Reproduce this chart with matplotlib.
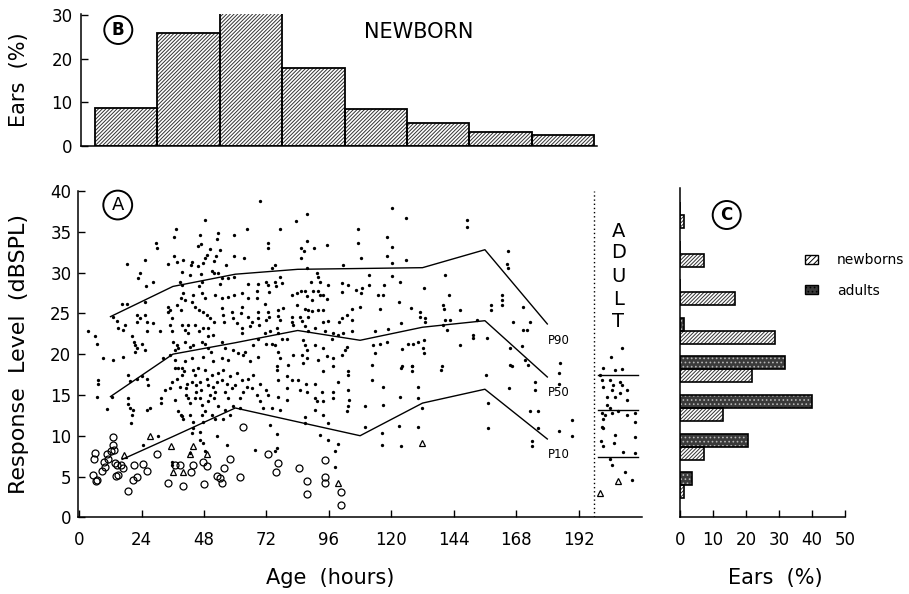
import numpy as np
import matplotlib
matplotlib.use('Agg')
import matplotlib.pyplot as plt
from matplotlib.patches import Patch

plt.rcParams['font.family'] = ['DejaVu Sans']
plt.rcParams['hatch.linewidth'] = 0.7
plt.rcParams['hatch.color'] = 'black'

# ---------------- Panel B: age distribution of newborn ears ----------------
age_bin_edges = [6, 30, 54, 78, 102, 126, 150, 174, 198]
newborn_age_pct = [8.8, 25.8, 30.5, 17.9, 8.4, 5.3, 3.2, 2.5]

# ---------------- Panel A: percentile curves ----------------
pct_age = [12, 36, 60, 84, 108, 132, 156, 180]
p90 = [24.6, 28.3, 29.8, 30.4, 30.5, 30.6, 32.8, 23.7]
p50 = [14.8, 20.0, 21.4, 22.9, 21.7, 23.3, 24.1, 17.2]
p10_age = [16.5, 36, 60, 84, 108, 132, 156, 180]
p10 = [7.1, 9.9, 13.4, 11.7, 10.0, 14.0, 15.7, 9.6]

adult_line_age = [199.4, 215.0]
adult_percentiles = [17.45, 13.1, 7.4]

# newborn responses (age h, level dB)
newborn_dots = np.array([
    (69.5,38.8),(48.4,36.5),(64.4,35.4),(37.1,35.3),(36.6,34.4),(46.4,34.6),(53.5,34.9),(52.9,34.1),(59.5,34.6),
    (29.5,33.6),(29.8,33.0),(45.8,33.2),(46.8,33.5),(50.3,32.9),(49,32.2),(54.1,32.8),(52.5,32.0),(52,31.4),
    (59.6,32.0),(63.4,31.8),(36.6,32.0),(37.5,31.3),(18.5,31.1),(25.3,31.5),(34,31.0),(40,31.5),(43.5,31.3),
    (42.8,30.9),(45.8,30.8),(47.7,31.2),(48.4,31.8),(56.3,30.9),(39.4,30.1),(42.6,29.7),(46.7,29.8),(50.9,30.2),
    (52,29.9),(53.2,29.9),(54.8,29.3),(57.3,29.3),(59.6,29.4),(23.4,29.9),(22.7,29.3),(28.5,28.9),(25.5,28.3),
    (38.7,28.9),(39.4,28.5),(47.1,28.9),(46.2,28.4),(54.1,28.6),(65,28.6),(68.9,28.6),(16.3,26.2),(18.2,26.2),
    (25.3,26.4),(40,27.5),(39.1,26.9),(40.7,26.6),(43.9,27.3),(43.5,26.4),(47.1,27.5),(48.4,26.9),(52.2,27.3),
    (54.8,26.9),(57.3,27.0),(59.6,27.3),(62.5,27.5),(65,26.9),(68.2,27.7),(68.2,26.9),(34,25.8),(34.9,25.4),
    (37.5,26),(39.1,25.4),(44.5,25.8),(46,25.4),(47.7,25.2),(49,24.8),(50.3,24.4),(52,24),(54.8,25.6),(55.4,24.8),
    (55.8,24),(58.6,25.2),(59.2,24.4),(60.5,23.8),(62.5,25.8),(62.2,25),(65,24.6),(66.3,24),(65.7,23.4),(68.9,25.2),
    (68.6,24.4),(69.2,23.6),(13.1,24.6),(14.4,24.1),(17.6,23.6),(17,23),(15,23.2),(22.1,24.8),(22.1,24),(23.4,24.4),
    (25.3,24.8),(25.9,23.9),(25.9,22.8),(28.5,23.8),(31,22.8),(34.2,25.2),(35.5,24.4),(34.9,23.6),(35.5,22.8),
    (39.4,23.6),(40.7,23),(42,23.6),(42,22.6),(44.5,23.6),(46,22.8),(47.7,23.2),(49.6,23.2),(51.6,22.4),(49.6,22.2),
    (62.5,23.2),(62.5,22.6),(3.2,22.8),(6,22.2),(6.7,21.2),(20.1,22.2),(21.2,21.5),(21.4,21.1),(22.1,20.7),
    (21.4,20.3),(24,21.3),(25.3,20.5),(36.2,21.5),(37.5,21.1),(38.1,20.7),(36.8,20.5),(40.7,21.5),(42.6,20.9),
    (43.9,21.1),(47.1,21.5),(48.4,21.3),(49.6,20.7),(50.7,20.3),(54.8,21.5),(56.1,20.7),(59.2,20.5),(61.2,20.1),
    (63.7,20.3),(67,21.1),(68.9,21.9),(9.2,19.5),(13.1,19.3),(17,19.6),(32.3,19.5),(34.9,19.9),(36.8,19.3),
    (40.7,19.1),(43.2,19.5),(47.7,19.6),(51.6,19.1),(54.8,19.5),(57.3,19.3),(63.1,19.9),(65.7,19.1),(68.6,19.7),
    # 72-145 h
    (120.1,37.9),(125.5,36.7),(87.4,37.2),(83.3,36.3),(77.2,35.4),(107.3,35.3),(118.2,34.4),(87.4,33.9),(95.1,33.4),
    (72.4,33.6),(72.4,33.0),(85.3,33.0),(86.5,32.7),(90.4,33.0),(107.3,33.6),(120.1,33.1),(85.3,31.8),(108.3,31.8),
    (118.2,32.0),(120.1,31.2),(125.5,31.5),(75.3,30.9),(74,30.5),(87.4,30.6),(101.5,30.9),(91.3,30.0),(91.9,29.5),
    (111.4,29.7),(120.4,29.6),(140.7,29.7),(72,28.9),(72.4,28.5),(75.3,28.8),(75.5,28.4),(77.2,29.5),(78.1,28.7),
    (89.1,28.8),(92.6,28.9),(95.5,28.5),(101.2,28.7),(103.2,28.5),(111.4,28.5),(117.3,28.5),(123.4,28.8),(132.7,28.1),
    (73,27.6),(81.7,27.3),(83.6,27.5),(85.3,27.8),(86.8,27.7),(87.4,27.1),(90,27.7),(91.7,27.8),(92.6,27.3),
    (93.9,27.3),(100.9,27.6),(106.3,27.9),(108.6,28.1),(108.3,27.5),(115,27.2),(116.9,27.3),(142.2,27.3),(71.4,26.2),
    (78.5,25.7),(83.6,26.0),(89.4,26.6),(95.1,26.8),(104.8,25.5),(108,25.8),(115.7,25.5),(123,26.4),(127.6,25.7),
    (140,26.0),(140.4,25.5),(72.7,25.2),(73,24.6),(72,24.2),(76.3,25.4),(76.5,24.7),(77.2,24.2),(81.7,24.6),
    (81.9,24),(82.3,23.6),(84.9,24.6),(85.5,24.1),(86.8,25.5),(88.1,25.4),(89.4,25.3),(91.7,25.4),(93.9,25.4),
    (88.1,24.6),(93.9,24),(95.8,24.1),(99.9,24),(101.2,24.4),(102.8,24.8),(105,24.2),(123.7,23.8),(131,25.2),
    (131,24.6),(133,24),(133,24.4),(140.7,24.2),(142.6,24.2),(71.4,22.6),(73.3,22.8),(75.9,23.2),(76.5,22.6),
    (86.8,23.4),(88.1,22.8),(90.6,23.2),(94.5,22.8),(97.7,22.6),(99.6,22.4),(101.5,22.6),(104.8,22.8),(113.7,22.8),
    (118.9,23.1),(140,23.6),(141.3,22.9),(72,21.3),(74,21.3),(75.3,21.1),(77.8,21.9),(79.8,21.9),(86.2,21.7),
    (86.8,21.1),(87.4,20.5),(90.6,21.1),(93.9,20.7),(97.1,21.9),(102.8,20.9),(113.1,21.1),(115.7,21.3),(118.2,21.5),
    (126.5,21.3),(128.5,21.3),(130.4,21.5),(132.7,21.7),(132.3,20.7),(132.7,20.1),(76.3,20.3),(77.2,19.5),(82.3,19.9),
    (85.5,19.9),(87.4,19.5),(91.9,19.3),(95.1,19.8),(97.7,19.5),(100.9,19.9),(102.2,20.5),(113.7,20.1),(124,20.6),
    (75.9,18.5),(80.4,18.7),(86.2,18.9),(112.4,18.7),(124,18.5),(127.8,18.5),(139.4,18.5),
    # 145-192 h upper
    (149,36.5),(149,35.6),(165,32.6),(164.4,31.1),(165,30.6),(162.4,27.3),(162.4,26.6),(162.4,26.0),(158.3,26.0),
    (158.3,25.4),(146.4,25.4),(170.8,25.8),(166.9,24.0),(173.3,24.0),(170.8,23.0),(172.1,23.0),(152.8,24.2),
    (151.6,22.4),(151.6,22.0),(156.7,22.0),(146.4,21.1),(165.7,20.7),(170.1,21.0),(184.9,18.9),(166.3,18.5),
    (171.4,19.3),(172.7,18.7),
    # 0-72 h lower
    (7.1,16.8),(7.1,16.4),(6.7,14.7),(12.7,14.8),(10.8,13.3),(18.9,17.5),(19.5,16.7),(18.9,14.6),(18.9,13.9),
    (19.5,13.4),(20.8,13.2),(20.1,12.6),(19.9,11.5),(22.1,17.0),(24,17.3),(25.9,17),(26.6,16.2),(31.4,14.6),
    (31.4,14),(25.9,13.2),(27.2,13.4),(35.5,16.6),(33,15.6),(34.9,15.8),(36.8,14.4),(38.1,13),(39.1,12.6),
    (39.4,18.3),(39.4,17.5),(41,15.8),(41,15),(42,14.6),(42.6,14),(43.2,16.6),(44.5,17.5),(44.8,16.2),(44.8,15.4),
    (44.5,14.6),(46.4,16.6),(46.8,15.6),(46.4,14.6),(49,17),(49.6,16.2),(50.3,15),(49.6,14.2),(52.8,16.6),
    (52.2,15.4),(52,14.6),(54.8,16.8),(56.1,15.4),(57.3,14.6),(59.9,16.2),(61.8,14.6),(63.1,15.4),(65,17),
    (66.3,15.8),(68.2,15),(69.5,14.2),(70.8,13.4),(36.8,18.3),(38.1,18.3),(39.4,12.4),(40,12.1),(42.6,12.6),
    (43.9,11.7),(43.9,10.9),(43.2,10.3),(47.1,12.6),(47.7,11.7),(50.9,12.6),(52.2,12),(55.4,12.1),(59.2,13.6),
    (61.8,13.4),(30.4,10.0),(24.6,8.9),(46.4,10.5),(46.4,9.5),(47.7,9.1),(52.8,10.0),(56.7,8.9),(67.6,8.3),
    (42.6,7.9),(35.5,6.8),(35.5,6.4),(48.4,8.1),(37.5,17.0),(38.7,16.0),(40.3,17.9),(41.6,16.4),(43.9,18.0),
    (45.8,18.3),(48.4,18.0),(50.9,17.5),(51.6,16.0),(53.5,17.7),(55.4,18.1),(56.7,16.4),(58,17.3),(58.6,15.8),
    (60.5,17.7),(62.5,16.8),(64.4,16.0),(67,17.5),(69.5,16.4),(47.1,13.8),(48.4,13.0),(53.5,13.6),(56.1,13.2),
    (57.9,12.6),
    # 72-145 h lower
    (75.9,18.1),(76.5,16.8),(79.8,17.3),(79.8,15.8),(81.7,16.8),(84.2,16.8),(84.9,15.6),(87,16.4),(87.4,15.4),
    (90.6,16.4),(93.9,17.9),(93.2,15.4),(97.7,18.5),(99.6,16.6),(103.5,17.9),(103.5,17.5),(103.5,15.6),(103.7,14.4),
    (103.5,13.6),(102.8,13),(97.7,15.4),(97.7,14.6),(90.6,14.6),(91.3,14.2),(90.6,13.2),(93.9,12.6),(93.9,14.2),
    (72.7,15),(72,15.6),(76.5,14.8),(79.8,14.4),(74,13.4),(77.2,13.2),(86.8,12.3),(86.8,11.5),(73.3,11.3),
    (75.9,10.2),(95.8,11.5),(92.6,10.1),(95.8,9.5),(99.6,9.0),(98.3,8.1),(98.3,6.2),(109.9,13.6),(116.9,16.0),
    (116.9,13.8),(112.4,16.8),(123.3,14.8),(123.7,18.3),(128.1,18.5),(128.1,17.9),(139,18.1),(130.1,16),
    (130.1,14.6),(131.7,13.4),(109.9,11.1),(116.5,10.3),(116.5,8.9),(123,11.2),(123.7,8.8),(130.1,11.1),
    (75.9,8.5),(75.3,8.1),
    # 145-192 h lower
    (156.3,17.5),(165.7,18.7),(165.3,15.8),(175.3,16.6),(175.3,15.6),(184.5,17.7),(184.5,16.4),(157.1,14.0),
    (157.1,10.9),(173.3,13),(176.3,13),(176.6,10.9),(174.2,9.3),(174.2,8.7),(189.4,11.9),(189.4,10.0),(184.5,10.6),
])

newborn_circles = np.array([
    (6.0,7.9),(5.8,7.2),(5.4,5.2),(6.7,4.6),(6.3,4.4),(8.6,5.7),(9.9,6.2),(9.6,6.8),(10.8,7.7),(11.2,7.2),
    (12.2,8.1),(13.1,9.9),(13.1,8.9),(13.5,8.3),(13.7,6.6),(14.4,6.4),(14,5.1),(15,5.2),(16.0,6.4),(17,6),
    (18.9,3.2),(20.8,4.6),(22.1,5),(21.2,6.4),(24.6,6.5),(25.9,5.7),(29.8,7.7),(34,4.2),(36.8,6.4),(38.7,6.4),
    (39.8,3.8),(43,5.5),(43.9,6.4),(47.7,6.8),(49,6.3),(48.1,4.1),(52.8,5.1),(54.1,4.8),(54.8,4.2),(55.8,6.0),
    (58,7.2),(61.8,5),(62.8,11.1),(72.7,7.7),(76.5,6.6),(75.5,5.6),(84.5,6),(94.5,7.0),(87.4,4.4),(94.5,5),
    (94.5,4.2),(87.4,2.8),(100.6,3.1),(100.6,1.5),
])

newborn_triangles = np.array([
    (17.3,7.6),(27.2,10.0),(35.3,8.8),(36.1,5.6),(40,5.5),(43.8,8.7),(42.6,7.7),(49,7.8),(99.6,4.2),(131.9,9.1),
])

adult_dots = np.array([
    (208.6,18.2),(206,18),(200.3,17.5),(200.9,16.8),(201.5,16.0),(204.1,16.8),(205.4,16.2),(204.8,15.6),(208,16.6),
    (208.6,16.2),(208,15.2),(210.5,15.6),(210.5,14.4),(202.8,14.8),(206,14.8),(202.8,13.8),(204.1,13.4),(200.9,12.8),
    (202.2,12.6),(201.5,12.1),(207.3,13),(210.5,12.6),(213.7,12.8),(204.8,12.8),(200.9,11.1),(201.5,10.9),(213.7,11.7),
    (200.7,9.3),(201.5,8.7),(206,10.1),(205.8,9.1),(213.7,9.9),(209.2,8),(213.7,7.9),(204.1,7.2),(204.8,6.4),
    (209.9,5.6),(212.4,4.6),(208.6,20.8),(204.5,19.7),(201.5,18.3),
])
adult_triangles = np.array([(207.3,4.5),(200.3,3.0)])

# ---------------- Panel C: response level distribution ----------------
level_bins = [2.5, 7.5, 12.5, 17.5, 22.5, 27.5, 32.5, 37.5]
newborn_level_pct = [1.2, 7.3, 13.1, 21.9, 28.9, 16.7, 7.4, 1.3]
adult_level_pct = [3.6, 20.6, 40.1, 31.9, 1.2, 0, 0, 0]

# ---------------- figure ----------------
W, H = 909, 594
fig = plt.figure(figsize=(W/100, H/100), dpi=100)

def ax_px(l, t, r, b):
    return fig.add_axes([l/W, 1-b/H, (r-l)/W, (b-t)/H])

axA = ax_px(78.3, 191, 641.7, 517.3)
axB = ax_px(81, 14, 597, 146)
axC = ax_px(680, 188, 845, 517.3)

for ax in (axA, axB, axC):
    for s in ('top', 'right'):
        ax.spines[s].set_visible(False)
    for s in ('left', 'bottom'):
        ax.spines[s].set_linewidth(1.1)
    ax.tick_params(direction='in', length=5, width=1.0, labelsize=12)

HATCH = '/////////'

# Panel B: white fill, then a hatch-only layer, then outline
b_left = age_bin_edges[:-1]
b_width = np.diff(age_bin_edges)
axB.bar(b_left, newborn_age_pct, width=b_width, align='edge', facecolor='white', edgecolor='none', zorder=2)
axB.bar(b_left, newborn_age_pct, width=b_width, align='edge', facecolor='none', edgecolor='#333333',
        hatch=HATCH, linewidth=0, zorder=3)
axB.bar(b_left, newborn_age_pct, width=b_width, align='edge', facecolor='none', edgecolor='black',
        linewidth=1.3, zorder=4)
axB.set_xlim(0.65, 199.1)
axB.set_ylim(0, 30.2)
axB.set_yticks([0, 10, 20, 30])
axB.set_xticks([])
axB.tick_params(axis='y', pad=6)
axB.text(0.0723, 0.879, 'B', transform=axB.transAxes, ha='center', va='center', fontsize=12,
         fontweight='bold', bbox=dict(boxstyle='circle,pad=0.3', fc='white', ec='black', lw=1.4))
axB.text(0.654, 0.866, 'NEWBORN', transform=axB.transAxes, ha='center', va='center', fontsize=15)

# Panel A
axA.plot(newborn_dots[:, 0], newborn_dots[:, 1], 'o', ms=2.4, color='black', mew=0)
axA.plot(newborn_circles[:, 0], newborn_circles[:, 1], 'o', ms=5, mfc='none', mec='black', mew=0.9)
axA.plot(newborn_triangles[:, 0], newborn_triangles[:, 1], '^', ms=5, mfc='none', mec='black', mew=0.9)
axA.plot(adult_dots[:, 0], adult_dots[:, 1], 'o', ms=2.4, color='black', mew=0)
axA.plot(adult_triangles[:, 0], adult_triangles[:, 1], '^', ms=5, mfc='none', mec='black', mew=0.9)
axA.plot(pct_age, p90, color='black', lw=1.0)
axA.plot(pct_age, p50, color='black', lw=1.0)
axA.plot(p10_age, p10, color='black', lw=1.0)
for lvl in adult_percentiles:
    axA.plot(adult_line_age, [lvl, lvl], color='black', lw=1.0)
axA.axvline(198, color='black', lw=1.0, ls=(0, (1, 2)))
axA.set_xlim(-0.38, 216.3)
axA.set_ylim(0, 40)
axA.set_xticks(np.arange(0, 193, 24))
axA.set_yticks(np.arange(0, 41, 5))
axA.tick_params(axis='x', pad=10)
axA.tick_params(axis='y', pad=5)
axA.text(0.07, 0.957, 'A', transform=axA.transAxes, ha='center', va='center', fontsize=13,
         bbox=dict(boxstyle='circle,pad=0.3', fc='white', ec='black', lw=1.4))
for lab, fy in (('P90', 0.543), ('P50', 0.383), ('P10', 0.193)):
    axA.text(0.834, fy, lab, transform=axA.transAxes, ha='left', va='center', fontsize=8.5)
for ch, fy in zip('ADULT', (0.875, 0.810, 0.738, 0.666, 0.600)):
    axA.text(0.9585, fy, ch, transform=axA.transAxes, ha='center', va='center', fontsize=14)

# Panel C
bh = 1.68
lb = np.array(level_bins)
axC.barh(lb - bh/2, newborn_level_pct, height=bh, facecolor='white', edgecolor='none', zorder=2)
axC.barh(lb - bh/2, newborn_level_pct, height=bh, facecolor='none', edgecolor='#333333',
         hatch=HATCH, linewidth=0, zorder=3)
axC.barh(lb - bh/2, newborn_level_pct, height=bh, facecolor='none', edgecolor='black',
         linewidth=1.2, zorder=4)
axC.barh(lb + bh/2, adult_level_pct, height=bh, facecolor='#3a3a3a', edgecolor='#b5b5b5',
         hatch='....', linewidth=0, zorder=2)
axC.barh(lb + bh/2, adult_level_pct, height=bh, facecolor='none', edgecolor='black', linewidth=1.2, zorder=4)
axC.set_xlim(0, 50)
axC.set_ylim(-1.65, 41.0)
axC.set_xticks(np.arange(0, 51, 10))
axC.set_yticks([])
axC.tick_params(axis='x', pad=10)
axC.text(0.283, 0.918, 'C', transform=axC.transAxes, ha='center', va='center', fontsize=12,
         fontweight='bold', bbox=dict(boxstyle='circle,pad=0.3', fc='white', ec='black', lw=1.4))
handles = [Patch(facecolor='white', edgecolor='black', hatch='//////', linewidth=1.0),
           Patch(facecolor='#3a3a3a', edgecolor='black', hatch='....', linewidth=1.0)]
axC.legend(handles, ['newborns', 'adults'], loc='upper left', bbox_to_anchor=(805/W, 1-253/H),
           bbox_transform=fig.transFigure, frameon=False, fontsize=10, handlelength=0.9,
           handleheight=0.6, handletextpad=1.4, labelspacing=1.2, borderpad=0, borderaxespad=0)

# axis titles
fig.text(19/W, 1-354/H, 'Response  Level  (dBSPL)', rotation=90, ha='center', va='center', fontsize=16)
fig.text(19/W, 1-80/H, 'Ears  (%)', rotation=90, ha='center', va='center', fontsize=15)
fig.text(330/W, 1-578/H, 'Age  (hours)', ha='center', va='center', fontsize=15)
fig.text(775/W, 1-578/H, 'Ears  (%)', ha='center', va='center', fontsize=15)

fig.savefig('out.png', dpi=100)
